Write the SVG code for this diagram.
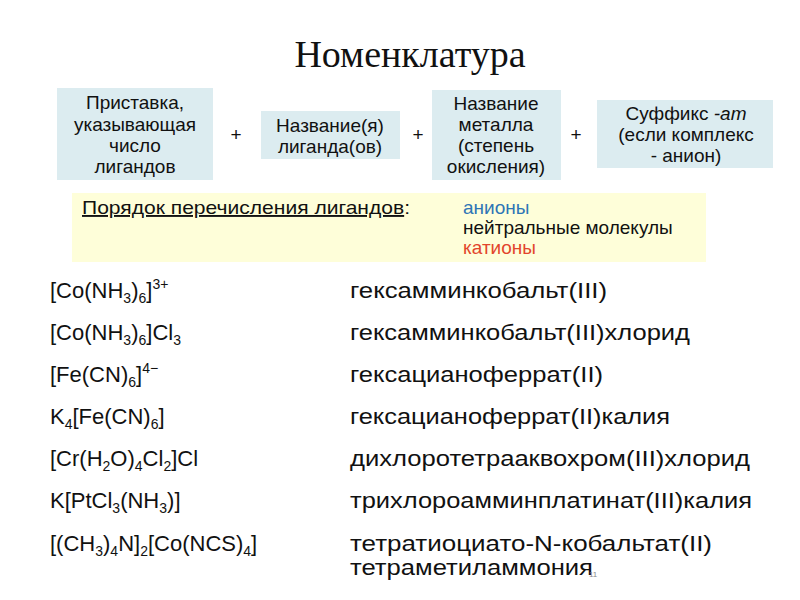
<svg xmlns="http://www.w3.org/2000/svg" width="800" height="600" viewBox="0 0 800 600">
<style>
.t{font-family:"Liberation Sans",Arial,sans-serif;fill:#111}
.b{font-size:19px;text-anchor:middle}
.box{fill:#dcecf0}
.r{font-size:22px}
.s{font-size:14px}
.y{font-size:19px}
</style>
<rect width="800" height="600" fill="#fff"/>
<text x="410" y="67" text-anchor="middle" style="font-family:'Liberation Serif',serif;font-size:38px" fill="#111">Номенклатура</text>
<g id="n1"><rect class="box" x="57" y="88" width="156" height="92"/>
<text class="t b"><tspan x="135" y="109">Приставка,</tspan><tspan x="135" y="131">указывающая</tspan><tspan x="135" y="152">число</tspan><tspan x="135" y="173">лигандов</tspan></text></g>
<g id="p1"><text class="t b" x="236" y="141" font-size="22">+</text></g>
<g id="n2"><rect class="box" x="261" y="111" width="139" height="48"/>
<text class="t b"><tspan x="330" y="132">Название(я)</tspan><tspan x="330" y="153">лиганда(ов)</tspan></text></g>
<g id="p2"><text class="t b" x="418" y="141" font-size="22">+</text></g>
<g id="n3"><rect class="box" x="432" y="90" width="129" height="90"/>
<text class="t b"><tspan x="496" y="110">Название</tspan><tspan x="496" y="131">металла</tspan><tspan x="496" y="152">(степень</tspan><tspan x="496" y="173">окисления)</tspan></text></g>
<g id="p3"><text class="t b" x="576" y="141" font-size="22">+</text></g>
<g id="n4"><rect class="box" x="597" y="100" width="176" height="68"/>
<text class="t b"><tspan x="686" y="120">Суффикс <tspan font-style="italic">-ат</tspan></tspan><tspan x="686" y="141">(если комплекс</tspan><tspan x="686" y="162">- анион)</tspan></text></g>
<g id="order"><rect x="72" y="193" width="634" height="69" fill="#fefed9"/>
<text class="t y" x="82" y="214" textLength="328" lengthAdjust="spacingAndGlyphs"><tspan text-decoration="underline">Порядок перечисления лигандов</tspan>:</text>
<text class="t y"><tspan x="463" y="214" fill="#2e75b6">анионы</tspan><tspan x="463" y="234">нейтральные молекулы</tspan><tspan x="463" y="254" fill="#e2452c">катионы</tspan></text></g>
<g id="rows">
<text class="t r" x="50" y="298">[Co(NH<tspan class="s" dy="5">3</tspan><tspan dy="-5">)</tspan><tspan class="s" dy="5">6</tspan><tspan dy="-5">]</tspan><tspan class="s" dy="-9">3+</tspan></text>
<text class="t r" x="50" y="340">[Co(NH<tspan class="s" dy="5">3</tspan><tspan dy="-5">)</tspan><tspan class="s" dy="5">6</tspan><tspan dy="-5">]Cl</tspan><tspan class="s" dy="5">3</tspan></text>
<text class="t r" x="50" y="382">[Fe(CN)<tspan class="s" dy="5">6</tspan><tspan dy="-5">]</tspan><tspan class="s" dy="-9">4−</tspan></text>
<text class="t r" x="50" y="424">K<tspan class="s" dy="5">4</tspan><tspan dy="-5">[Fe(CN)</tspan><tspan class="s" dy="5">6</tspan><tspan dy="-5">]</tspan></text>
<text class="t r" x="50" y="466">[Cr(H<tspan class="s" dy="5">2</tspan><tspan dy="-5">O)</tspan><tspan class="s" dy="5">4</tspan><tspan dy="-5">Cl</tspan><tspan class="s" dy="5">2</tspan><tspan dy="-5">]Cl</tspan></text>
<text class="t r" x="50" y="508">K[PtCl<tspan class="s" dy="5">3</tspan><tspan dy="-5">(NH</tspan><tspan class="s" dy="5">3</tspan><tspan dy="-5">)]</tspan></text>
<text class="t r" x="50" y="551">[(CH<tspan class="s" dy="5">3</tspan><tspan dy="-5">)</tspan><tspan class="s" dy="5">4</tspan><tspan dy="-5">N]</tspan><tspan class="s" dy="5">2</tspan><tspan dy="-5">[Co(NCS)</tspan><tspan class="s" dy="5">4</tspan><tspan dy="-5">]</tspan></text>
<text class="t r" x="350" y="298" textLength="257" lengthAdjust="spacingAndGlyphs">гексамминкобальт(III)</text>
<text class="t r" x="350" y="340" textLength="340" lengthAdjust="spacingAndGlyphs">гексамминкобальт(III)хлорид</text>
<text class="t r" x="350" y="382" textLength="253" lengthAdjust="spacingAndGlyphs">гексацианоферрат(II)</text>
<text class="t r" x="350" y="424" textLength="320" lengthAdjust="spacingAndGlyphs">гексацианоферрат(II)калия</text>
<text class="t r" x="350" y="466" textLength="400" lengthAdjust="spacingAndGlyphs">дихлоротетрааквохром(III)хлорид</text>
<text class="t r" x="350" y="508" textLength="402" lengthAdjust="spacingAndGlyphs">трихлороамминплатинат(III)калия</text>
<text class="t r" x="350" y="551" textLength="362" lengthAdjust="spacingAndGlyphs">тетратиоциато-N-кобальтат(II)</text>
<text class="t r" x="350" y="575" textLength="243" lengthAdjust="spacingAndGlyphs">тетраметиламмония</text>
<text x="589" y="577" font-size="8" fill="#888" style="font-family:'Liberation Sans',sans-serif">11</text>
</g>
</svg>
